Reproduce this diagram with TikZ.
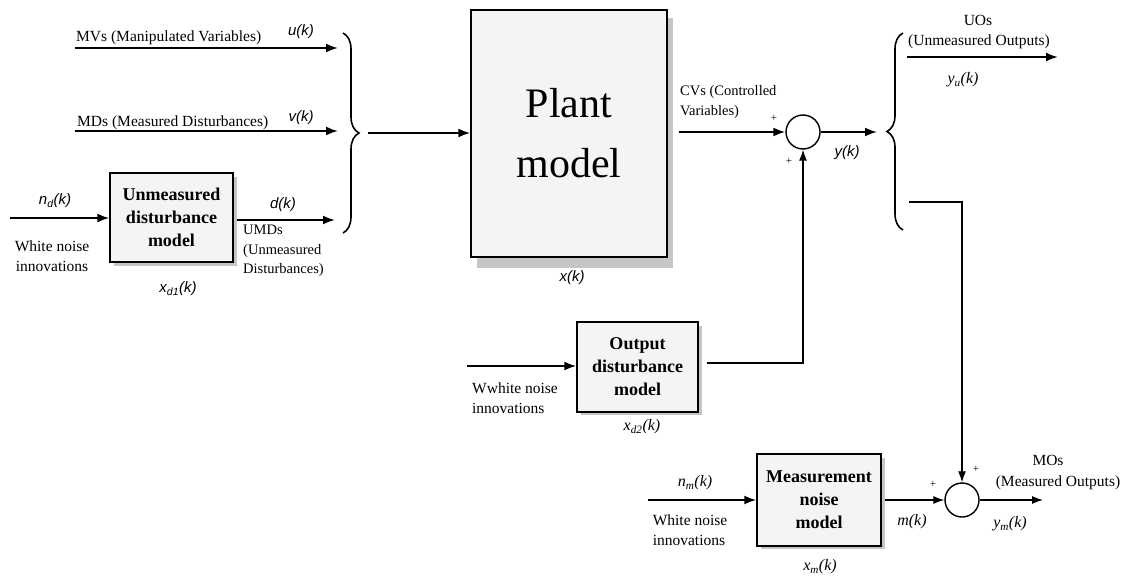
\documentclass[tikz,border=0pt]{standalone}
\usepackage{fontspec}
\setmainfont{Liberation Serif}
\setsansfont{Liberation Sans}
\usetikzlibrary{arrows.meta,decorations.pathreplacing,calc}
\begin{document}
\begin{tikzpicture}[x=1pt,y=-1pt,
  arr/.style={line width=2pt,-{Latex[length=12pt,width=9pt]}},
  thinarr/.style={line width=1.2pt,-{Latex[length=11pt,width=8pt]}},
  blk/.style={draw,line width=1.4pt,fill=gray!9,font=\bfseries\fontsize{18}{23}\selectfont,align=center,inner sep=0pt},
  shadowbox/.style={fill=gray!45},
  lbl/.style={font=\fontsize{15.5}{20}\selectfont,inner sep=0pt},
  var/.style={font=\sffamily\itshape\fontsize{15}{18}\selectfont,inner sep=0pt},
  svar/.style={font=\itshape\fontsize{16}{18}\selectfont,inner sep=0pt},
  pm/.style={font=\fontsize{11}{12}\selectfont,inner sep=0pt},
  sumnode/.style={circle,draw,line width=1.4pt,minimum size=34pt,inner sep=0pt},
  bracestyle/.style={line width=1.6pt,decorate,decoration={brace,amplitude=16pt}}]
\useasboundingbox (0,0) rectangle (1123,575);
\fill[white] (0,0) rectangle (1123,575);

% shadows
\fill[shadowbox] (477,18) rectangle (673,268);
\fill[shadowbox] (114,177) rectangle (237,266);
\fill[shadowbox] (581,326) rectangle (702,415);
\fill[shadowbox] (761,458) rectangle (885,549);

% blocks
\node[blk,minimum width=196pt,minimum height=247pt,font=\fontsize{42}{60}\selectfont] (plant) at (569,133.5) {Plant\\model};
\node[blk,minimum width=123pt,minimum height=89pt] (udm) at (171.5,217.5) {Unmeasured\\disturbance\\model};
\node[blk,minimum width=121pt,minimum height=90pt] (odm) at (637.5,367) {Output\\disturbance\\model};
\node[blk,minimum width=124pt,minimum height=92pt] (mnm) at (819,500) {Measurement\\noise\\model};

\node[sumnode] (sum1) at (803,132) {};
\node[sumnode] (sum2) at (962,500) {};

% coordinates
\coordinate (mvs) at (75,48);   \coordinate (mve) at (338,48);
\coordinate (mds) at (75,131);  \coordinate (mde) at (338,131);
\coordinate (nds) at (10,218);
\coordinate (ds) at (237,220);  \coordinate (de) at (335,220);
\coordinate (lbt) at (343,33);  \coordinate (lbb) at (343,233);
\coordinate (lbtip) at (368,133);
\coordinate (cvs) at (679,132);
\coordinate (ye) at (877,132);
\coordinate (rbt) at (903,33);  \coordinate (rbb) at (903,230);
\coordinate (uos) at (907,57);  \coordinate (uoe) at (1058,57);
\coordinate (brs) at (909,202);
\coordinate (ods) at (707,363);
\coordinate (wns) at (467,366);
\coordinate (nms) at (648,500);
\coordinate (ms) at (885,500);
\coordinate (yme) at (1043,500);

% braces
\draw[bracestyle] (lbt) -- (lbb);
\draw[bracestyle] (rbb) -- (rbt);

% connectors
\draw[arr] (mvs) -- (mve);
\draw[arr] (mds) -- (mde);
\draw[arr] (nds) -- (nds -| udm.west);
\draw[arr] (ds) -- (de);
\draw[arr] (lbtip) -- (lbtip -| plant.west);
\draw[arr] (cvs) -- (sum1.west);
\draw[arr] (sum1.east) -- (ye);
\draw[arr] (uos) -- (uoe);
\draw[thinarr] (brs) -| (sum2.north);
\draw[thinarr] (ods) -| (sum1.south);
\draw[arr] (wns) -- (wns -| odm.west);
\draw[arr] (nms) -- (mnm.west);
\draw[thinarr] (ms) -- (sum2.west);
\draw[thinarr] (sum2.east) -- (yme);

% labels
\node[lbl,anchor=base west] (mvl) at (76,42) {MVs (Manipulated Variables)};
\node[var] (uk) at (301,32) {u(k)};
\node[lbl,anchor=base west] (mdl) at (77,126) {MDs (Measured Disturbances)};
\node[var] (vk) at (301,118) {v(k)};
\node[var] (ndk) at (55,201) {n\textsubscript{d}(k)};
\node[lbl,align=center] (wn1) at (52,256) {White noise\\innovations};
\node[var] (xd1) at (178,289) {x\textsubscript{d1}(k)};
\node[var] (dk) at (283,205) {d(k)};
\node[lbl,align=left,anchor=north west,font=\fontsize{14.5}{19.5}\selectfont] (umd) at (243,225) {UMDs\\(Unmeasured\\Disturbances)};
\node[var] (xk) at (572,278) {x(k)};
\node[lbl,align=left,anchor=north west,font=\fontsize{14.5}{20}\selectfont] (cvl) at (680,85) {CVs (Controlled\\Variables)};
\node[pm] (p1) at (774,118) {+};
\node[pm] (p2) at (789,161) {+};
\node[var] (yk) at (847,153) {y(k)};
\node[lbl] (uol) at (978,20) {UOs};
\node[lbl] (uol2) at (979,42) {(Unmeasured Outputs)};
\node[svar] (yuk) at (963,80) {y\textsubscript{u}(k)};
\node[lbl,align=left] (wn2) at (515,398) {Wwhite noise\\innovations};
\node[svar] (xd2) at (642,427) {x\textsubscript{d2}(k)};
\node[svar] (nmk) at (695,483) {n\textsubscript{m}(k)};
\node[lbl,align=left] (wn3) at (690,530) {White noise\\innovations};
\node[svar] (xmk) at (820,567) {x\textsubscript{m}(k)};
\node[svar] (mk) at (912,522) {m(k)};
\node[pm] (p3) at (933,484) {+};
\node[pm] (p4) at (976,469) {+};
\node[lbl] (mol) at (1048,460) {MOs};
\node[lbl] (mol2) at (1058,483) {(Measured Outputs)};
\node[svar] (ymk) at (1010,524) {y\textsubscript{m}(k)};
\end{tikzpicture}
\end{document}
